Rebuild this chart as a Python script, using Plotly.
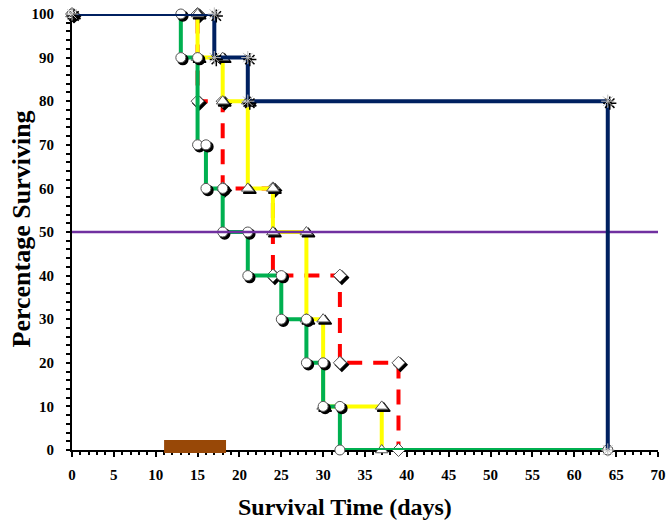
import plotly.graph_objects as go

# ---------------- data ----------------
days_navy = [0, 17, 21, 64]
surv_navy = [100, 90, 80, 0]

days_red = [0, 15, 18, 24, 32, 39]
surv_red = [100, 80, 60, 40, 20, 0]

days_yellow = [0, 15, 18, 21, 24, 28, 30, 37]
surv_yellow = [100, 90, 80, 60, 50, 30, 10, 0]

days_green = [0, 13, 15, 16, 18, 21, 25, 28, 30, 32, 64]
surv_green = [100, 90, 70, 60, 50, 40, 30, 20, 10, 0, 0]

median_level = 50
median_span = [0, 70]
treatment_days = [11, 18.4]

x_ticks = list(range(0, 75, 5))
y_ticks = list(range(0, 110, 10))

# ---------------- layout geometry ----------------
W, H = 666, 525
ML, MR, MT, MB = 72, 8, 14, 75
PLOT_H = H - MT - MB
PX_PER_DAY = (W - ML - MR) / 70.0
PX_PER_PCT = PLOT_H / 100.0
SHX, SHY = 2 / PX_PER_DAY, -2 / PX_PER_PCT  # marker shadow offset

FONT = "Liberation Serif"


def marker_points(days, surv):
    xs, ys = [days[0]], [surv[0]]
    for i in range(1, len(days)):
        xs += [days[i], days[i]]
        ys += [surv[i - 1], surv[i]]
    return xs, ys


fig = go.Figure()


def add_series(days, surv, color, symbol, width, dash="solid", msize=10):
    fig.add_trace(go.Scatter(x=days, y=surv, mode="lines", line_shape="hv",
                             line=dict(color=color, width=width, dash=dash),
                             hoverinfo="skip", showlegend=False, cliponaxis=False))
    mx, my = marker_points(days, surv)
    is_open = symbol.endswith("open")
    fig.add_trace(go.Scatter(x=[v + SHX for v in mx], y=[v + SHY for v in my], mode="markers",
                             marker=dict(symbol=symbol, size=msize, color="black",
                                         line=dict(color="black", width=1.5)),
                             hoverinfo="skip", showlegend=False, cliponaxis=False))
    fig.add_trace(go.Scatter(x=mx, y=my, mode="markers",
                             marker=dict(symbol=symbol, size=msize,
                                         color="#bbbbbb" if is_open else "white",
                                         line=dict(color="#cccccc" if is_open else "#555555", width=1)),
                             hoverinfo="skip", showlegend=False, cliponaxis=False))


add_series(days_red, surv_red, "#FF0000", "diamond", 4, dash="15px,11px", msize=10)
add_series(days_yellow, surv_yellow, "#FFFF00", "triangle-up", 4, msize=11)
add_series(days_green, surv_green, "#00B050", "circle", 4, msize=10)

fig.add_trace(go.Scatter(x=median_span, y=[median_level, median_level], mode="lines",
                         line=dict(color="#7030A0", width=2.5),
                         hoverinfo="skip", showlegend=False, cliponaxis=False))

add_series(days_navy, surv_navy, "#002060", "asterisk-open", 4, msize=11)

# treatment bar sitting on the time axis (paper y so it is not clipped)
fig.add_shape(type="rect", xref="x", yref="paper",
              x0=treatment_days[0], x1=treatment_days[1],
              y0=-3 / PLOT_H, y1=10 / PLOT_H,
              fillcolor="#984807", line=dict(width=0), layer="above")

axis_common = dict(showgrid=False, zeroline=False, showline=True, linecolor="black",
                   linewidth=2, ticks="outside", tickcolor="black", tickwidth=2,
                   layer="below traces", automargin=False,
                   tickfont=dict(family=FONT, size=15, color="black", weight="bold"))

fig.update_xaxes(range=[0, 70], tickmode="array", tickvals=x_ticks,
                 ticktext=[str(v) for v in x_ticks], ticklen=5, ticklabelstandoff=5,
                 minor=dict(dtick=1, tick0=0, ticks="outside", ticklen=3,
                            tickwidth=2, tickcolor="black"),
                 **axis_common)
fig.update_yaxes(range=[0, 100], tickmode="array", tickvals=y_ticks,
                 ticktext=[str(v) for v in y_ticks], ticklen=4, ticklabelstandoff=9,
                 minor=dict(dtick=2, tick0=0, ticks="outside", ticklen=4,
                            tickwidth=2, tickcolor="black"),
                 **axis_common)

fig.update_layout(
    width=W, height=H,
    margin=dict(l=ML, r=MR, t=MT, b=MB, pad=0),
    paper_bgcolor="white", plot_bgcolor="white",
    showlegend=False,
    annotations=[
        dict(text="Survival Time (days)", xref="paper", yref="paper",
             x=(345 - ML) / (W - ML - MR), y=-(507 - (H - MB)) / PLOT_H,
             xanchor="center", yanchor="middle", showarrow=False,
             font=dict(family=FONT, size=24, color="black", weight="bold")),
        dict(text="Percentage Surviving", xref="paper", yref="paper",
             x=(21 - ML) / (W - ML - MR), y=((H - MB) - 229.5) / PLOT_H,
             xanchor="center", yanchor="middle", showarrow=False, textangle=-90,
             font=dict(family=FONT, size=26, color="black", weight="bold")),
    ],
)

fig.write_html("out.html")
